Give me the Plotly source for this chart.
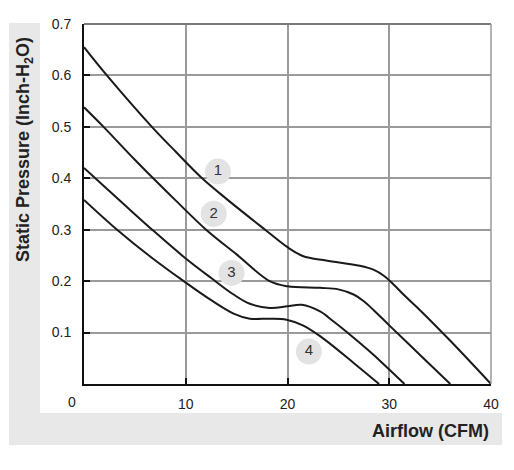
import plotly.graph_objects as go

# Data
curve1_x = [0, 2.25, 6.67, 9, 11.5, 14, 17.8, 20, 21.5, 23.8, 27.1, 28.5, 29.5, 30.5, 31.5, 33, 36, 40]
curve1_y = [0.655, 0.6, 0.5, 0.452, 0.402, 0.36, 0.3, 0.266, 0.249, 0.240, 0.230, 0.222, 0.21, 0.192, 0.172, 0.144, 0.084, 0.0]

curve2_x = [0, 1.92, 4.9, 6.8, 9, 12.0, 15, 18.25, 20, 23.2, 25, 26.5, 27.5, 28.5, 30, 33, 36]
curve2_y = [0.538, 0.5, 0.438, 0.4, 0.357, 0.3, 0.252, 0.2, 0.19, 0.187, 0.184, 0.174, 0.161, 0.143, 0.114, 0.057, 0.0]

curve3_x = [0, 2, 4, 6.7, 10, 12.5, 14.7, 16.3, 18.25, 20, 21.4, 23.2, 24.5, 26.5, 28.5, 30, 31.5]
curve3_y = [0.42, 0.384, 0.348, 0.3, 0.244, 0.206, 0.174, 0.156, 0.148, 0.151, 0.154, 0.141, 0.122, 0.09, 0.056, 0.028, 0.0]

curve4_x = [0, 3.25, 6.5, 9.8, 12.5, 14.7, 16.3, 18.25, 19.9, 21.5, 23.2, 26.5, 29]
curve4_y = [0.358, 0.3, 0.248, 0.2, 0.163, 0.137, 0.127, 0.127, 0.125, 0.114, 0.093, 0.041, 0.0]

label_text = ["1", "2", "3", "4"]
label_x = [13.16, 12.75, 14.5, 22.1]
label_y = [0.413, 0.331, 0.216, 0.063]

x_ticks = [0, 10, 20, 30, 40]
x_tick_labels = ["", "10", "20", "30", "40"]
y_ticks = [0.1, 0.2, 0.3, 0.4, 0.5, 0.6, 0.7]
y_tick_labels = ["0.1", "0.2", "0.3", "0.4", "0.5", "0.6", "0.7"]

FONT = "Liberation Sans, Arial, sans-serif"
LINE_COLOR = "#1a1a1a"

fig = go.Figure()
for xs, ys in [(curve1_x, curve1_y), (curve2_x, curve2_y), (curve3_x, curve3_y), (curve4_x, curve4_y)]:
    fig.add_trace(go.Scatter(
        x=xs, y=ys, mode="lines",
        line=dict(color=LINE_COLOR, width=2, shape="spline", smoothing=1.0),
        hoverinfo="skip", showlegend=False, cliponaxis=False,
    ))

fig.add_trace(go.Scatter(
    x=label_x, y=label_y, mode="markers+text", text=label_text,
    textposition="middle center",
    marker=dict(size=26, color="#e3e3e3", line=dict(width=0)),
    textfont=dict(family=FONT, size=15, color="#333333"),
    hoverinfo="skip", showlegend=False,
))

W, H = 514, 470
L, R, T, B = 84, 23, 24, 86
PW, PH = W - L - R, H - T - B


def px(x):
    return (x - L) / PW


def py(y):
    return (H - B - y) / PH


shapes = [
    # gray L-shaped background
    dict(type="rect", xref="paper", yref="paper", x0=px(9), x1=px(502), y0=py(445), y1=py(23),
         fillcolor="#e8e8e8", line=dict(width=0), layer="below"),
    dict(type="rect", xref="paper", yref="paper", x0=px(40), x1=px(514), y0=py(413), y1=py(0),
         fillcolor="#ffffff", line=dict(width=0), layer="below"),
    # top and right border lines
    dict(type="line", xref="paper", yref="paper", x0=0, x1=1, y0=1, y1=1,
         line=dict(color="#7a7a7a", width=2)),
    dict(type="line", xref="paper", yref="paper", x0=1, x1=1, y0=0, y1=1,
         line=dict(color="#9a9a9a", width=1.5)),
]

annotations = [
    dict(text="0", xref="paper", yref="paper", x=px(72), y=py(402), showarrow=False,
         xanchor="center", yanchor="middle", font=dict(family=FONT, size=14, color="#222222")),
    dict(text="<b>Static Pressure (Inch-H<sub>2</sub>O)</b>", xref="paper", yref="paper",
         x=px(24), y=py(150), textangle=-90, showarrow=False, xanchor="center", yanchor="middle",
         font=dict(family=FONT, size=18, color="#222222")),
    dict(text="<b>Airflow (CFM)</b>", xref="paper", yref="paper", x=px(491), y=py(431),
         showarrow=False, xanchor="right", yanchor="middle",
         font=dict(family=FONT, size=18, color="#222222")),
]

fig.update_layout(
    width=W, height=H,
    margin=dict(l=L, r=R, t=T, b=B, pad=0),
    paper_bgcolor="#ffffff", plot_bgcolor="#ffffff",
    shapes=shapes, annotations=annotations,
    font=dict(family=FONT, size=14, color="#222222"),
    xaxis=dict(range=[0, 40], tickvals=x_ticks, ticktext=x_tick_labels,
               showgrid=True, gridcolor="#9a9a9a", gridwidth=1.5,
               showline=True, linecolor="#111111", linewidth=2,
               ticks="inside", ticklen=6, tickwidth=2, tickcolor="#111111",
               zeroline=False, ticklabelstandoff=6, fixedrange=True),
    yaxis=dict(range=[0, 0.7], tickvals=y_ticks, ticktext=y_tick_labels,
               showgrid=True, gridcolor="#9a9a9a", gridwidth=1.5,
               showline=True, linecolor="#111111", linewidth=2,
               ticks="inside", ticklen=6, tickwidth=2, tickcolor="#111111",
               zeroline=False, ticklabelstandoff=8, fixedrange=True),
)

fig.write_html("out.html")
